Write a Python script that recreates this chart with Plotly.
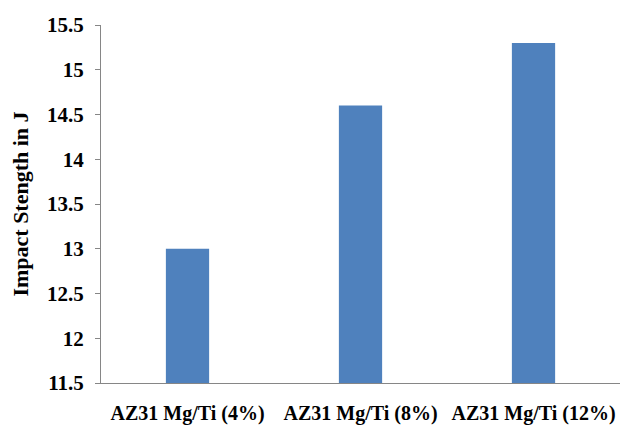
import plotly.graph_objects as go

categories = ["AZ31 Mg/Ti (4%)", "AZ31 Mg/Ti (8%)", "AZ31 Mg/Ti (12%)"]
impact_strength = [13.0, 14.6, 15.3]
y_ticks = [11.5, 12, 12.5, 13, 13.5, 14, 14.5, 15, 15.5]
y_ticklabels = ["11.5", "12", "12.5", "13", "13.5", "14", "14.5", "15", "15.5"]

font_family = "Liberation Serif, DejaVu Serif, serif"

fig = go.Figure(go.Bar(
    x=categories,
    y=impact_strength,
    marker=dict(color="#4F81BD", line=dict(width=0)),
))

fig.update_layout(
    width=635, height=430,
    margin=dict(l=101, r=15, t=25, b=47),
    paper_bgcolor="white", plot_bgcolor="white",
    bargap=0.75,
    showlegend=False,
    font=dict(family=font_family, color="black"),
)
fig.update_xaxes(
    automargin=False,
    showline=True, linecolor="#868686", linewidth=1,
    ticks="", showgrid=False,
    tickfont=dict(family=font_family, size=20, color="black", weight="bold"),
    ticklabelstandoff=12,
)
fig.update_yaxes(
    automargin=False,
    range=[11.5, 15.5],
    tickvals=y_ticks, ticktext=y_ticklabels,
    showline=True, linecolor="#868686", linewidth=1,
    ticks="outside", ticklen=5, tickcolor="#868686",
    showgrid=False, zeroline=False,
    tickfont=dict(family=font_family, size=21, color="black", weight="bold"),
    ticklabelstandoff=7,
    title=dict(text="Impact Stength in J", standoff=12,
               font=dict(family=font_family, size=22, color="black", weight="bold")),
)

fig.write_html("out.html", config={"displayModeBar": False},
               post_script="document.body.style.margin='0px';")
